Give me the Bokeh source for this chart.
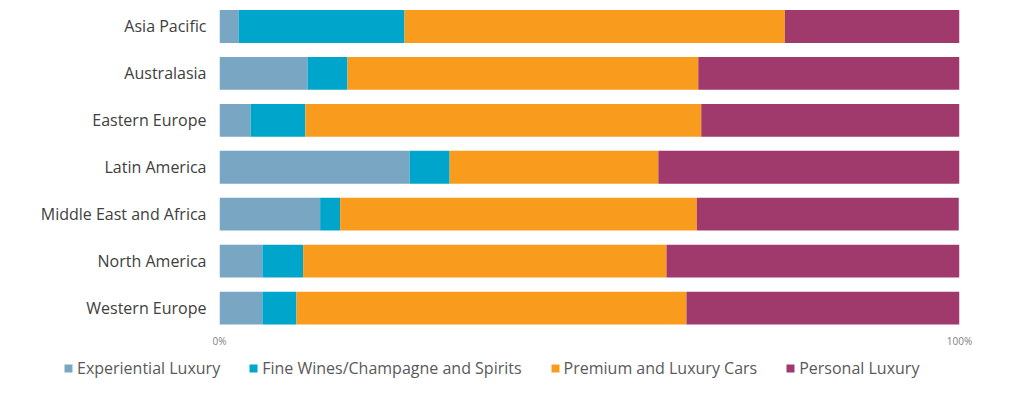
from bokeh.plotting import figure
from bokeh.models import ColumnDataSource, FixedTicker, Legend, LegendItem
from bokeh.embed import file_html
from bokeh.resources import INLINE

regions = ["Asia Pacific", "Australasia", "Eastern Europe", "Latin America",
           "Middle East and Africa", "North America", "Western Europe"]
experiential = [2.6, 11.9, 4.2, 25.7, 13.6, 5.8, 5.8]
fine_wines = [22.4, 5.4, 7.4, 5.4, 2.7, 5.5, 4.6]
cars = [51.4, 47.4, 53.5, 28.2, 48.2, 49.1, 52.7]
personal = [23.6, 35.3, 34.9, 40.7, 35.4, 39.6, 36.9]
series_names = ["Experiential Luxury", "Fine Wines/Champagne and Spirits",
                "Premium and Luxury Cars", "Personal Luxury"]
colors = ["#79A6C3", "#00A5CB", "#F99C1E", "#A13A6C"]
tick_labels = {0: "0%", 100: "100%"}

n = len(regions)
ypos = [n - 1 - i for i in range(n)]
src = ColumnDataSource(dict(y=ypos, el=experiential, fw=fine_wines, pc=cars, pl=personal))

p = figure(width=1008, height=350, output_backend="svg", toolbar_location=None,
           x_range=(0, 100), y_range=(-0.457, 6.553),
           min_border_left=219, min_border_right=49, min_border_top=0, min_border_bottom=19)

p.hbar_stack(["el", "fw", "pc", "pl"], y="y", height=0.7, source=src,
             color=colors, line_width=0)

p.xgrid.visible = False
p.ygrid.visible = False
p.outline_line_color = None

p.xaxis.ticker = FixedTicker(ticks=list(tick_labels.keys()))
p.xaxis.major_label_overrides = tick_labels
p.xaxis.axis_line_color = None
p.xaxis.major_tick_line_color = None
p.xaxis.major_tick_out = 0
p.xaxis.minor_tick_line_color = None
p.xaxis.major_label_text_font = "Open Sans"
p.xaxis.major_label_text_font_size = "10px"
p.xaxis.major_label_text_color = "#7f7f7f"
p.xaxis.major_label_standoff = 4

p.yaxis.ticker = FixedTicker(ticks=ypos)
p.yaxis.major_label_overrides = {yy: r for yy, r in zip(ypos, regions)}
p.yaxis.axis_line_color = None
p.yaxis.major_tick_line_color = None
p.yaxis.major_tick_out = 0
p.yaxis.minor_tick_line_color = None
p.yaxis.major_label_text_font = "Open Sans"
p.yaxis.major_label_text_font_size = "16px"
p.yaxis.major_label_text_color = "#404040"
p.yaxis.major_label_standoff = 13

# legend strip (separate root, its frame spans the full width)
lg = figure(width=1008, height=32, output_backend="svg", toolbar_location=None,
            x_axis_type=None, y_axis_type=None, x_range=(0, 1), y_range=(0, 1),
            min_border_left=0, min_border_right=0, min_border_top=0, min_border_bottom=0)
lg.xgrid.visible = False
lg.ygrid.visible = False
lg.outline_line_color = None
lg.background_fill_color = None
lg.border_fill_color = None
swatches = [lg.hbar(y=[-5], left=[-5], right=[-4], height=1, fill_color=c, line_color=None)
            for c in colors]
legend = Legend(items=[LegendItem(label=nm, renderers=[r]) for nm, r in zip(series_names, swatches)],
                orientation="horizontal", location=(63, 3),
                label_text_font="Open Sans", label_text_font_size="16px",
                label_text_color="#595959", glyph_width=10, glyph_height=10,
                label_standoff=4, spacing=28, padding=4, margin=0,
                border_line_color=None, background_fill_alpha=0)
lg.add_layout(legend, "center")

open("out.html", "w").write(file_html((p, lg), INLINE))
